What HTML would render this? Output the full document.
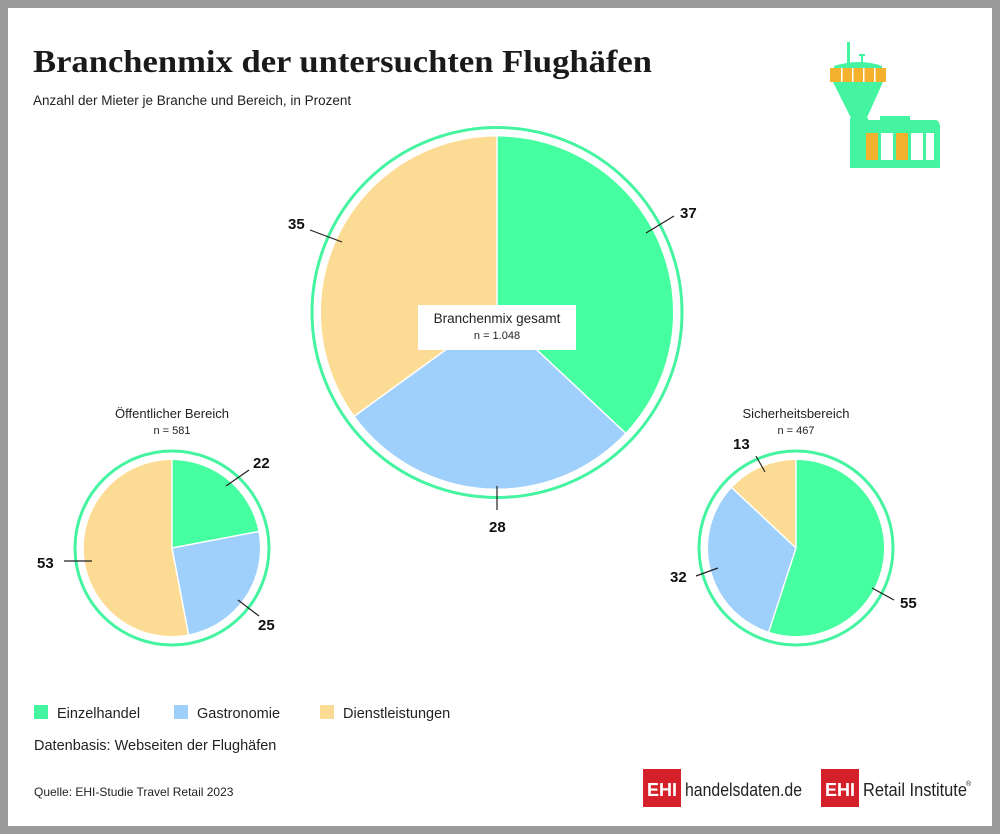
<!DOCTYPE html>
<html><head><meta charset="utf-8"><style>
body{margin:0;width:1000px;height:834px;overflow:hidden;background:#fff}
svg{display:block}
text{font-family:"Liberation Sans",sans-serif}
text.serif{font-family:"Liberation Serif",serif}
</style></head><body>
<svg width="1000" height="834" viewBox="0 0 1000 834">
<rect x="0" y="0" width="1000" height="834" fill="#9a9a9a"/>
<rect x="8" y="8" width="984" height="818" fill="#fff"/>
<text class="serif" x="33" y="72" font-weight="bold" font-size="32" fill="#1a1a1a" textLength="619" lengthAdjust="spacingAndGlyphs">Branchenmix der untersuchten Flughäfen</text>
<text x="33" y="105" font-size="13.5" fill="#222">Anzahl der Mieter je Branche und Bereich, in Prozent</text>
<!-- icon -->
<g>
<rect x="847" y="42" width="3" height="28" fill="#45f4a0"/>
<rect x="859" y="54" width="6" height="2" fill="#45f4a0"/><rect x="861" y="55" width="2" height="10" fill="#45f4a0"/>
<path d="M834 66 Q860 58 882 66 L882 78 L834 78Z" fill="#45f4a0"/>
<rect x="830" y="68" width="56" height="14" fill="#f4b12e"/>
<g fill="#fff"><rect x="841" y="68" width="1.5" height="14"/><rect x="852" y="68" width="1.5" height="14"/><rect x="863" y="68" width="1.5" height="14"/><rect x="874" y="68" width="1.5" height="14"/></g>
<path d="M833 82 L883 82 L866 120 L852 120 Z" fill="#45f4a0"/>
<rect x="850" y="118" width="18" height="50" fill="#45f4a0"/>
<path d="M868 120 L935 120 Q940 120 940 128 L940 168 L868 168 Z" fill="#45f4a0"/>
<rect x="880" y="116" width="30" height="6" fill="#45f4a0"/>
<rect x="866" y="133" width="12" height="27" fill="#f4b12e"/>
<rect x="881" y="133" width="12" height="27" fill="#fff"/>
<rect x="896" y="133" width="12" height="27" fill="#f4b12e"/>
<rect x="911" y="133" width="12" height="27" fill="#fff"/>
<rect x="926" y="133" width="8" height="27" fill="#fff"/>
</g>
<!-- main pie -->
<circle cx="497" cy="312.5" r="185" fill="none" stroke="#45f4a0" stroke-width="3"/>
<path d="M497 312.5 L497 136.5 A176 176 0 0 1 625.4 432.9Z" fill="#45ffa0"/>
<path d="M497 312.5 L625.4 432.9 A176 176 0 0 1 354.6 416Z" fill="#9fd0fb"/>
<path d="M497 312.5 L354.6 416 A176 176 0 0 1 497 136.5Z" fill="#fcdc94"/>
<g stroke="#fff" stroke-width="1.5"><line x1="497" y1="312.5" x2="497" y2="136.5"/><line x1="497" y1="312.5" x2="625.4" y2="432.9"/><line x1="497" y1="312.5" x2="354.6" y2="416"/></g>
<rect x="418" y="305" width="158" height="45" fill="#fff"/>
<text x="497" y="323" font-size="13.5" text-anchor="middle" fill="#222">Branchenmix gesamt</text>
<text x="497" y="339" font-size="11" text-anchor="middle" fill="#222">n = 1.048</text>
<!-- left pie -->
<circle cx="172" cy="548" r="97" fill="none" stroke="#45f4a0" stroke-width="3"/>
<path d="M172 548 L172 460 A88 88 0 0 1 258.4 531.5Z" fill="#45ffa0"/>
<path d="M172 548 L258.4 531.5 A88 88 0 0 1 188.5 634.4Z" fill="#9fd0fb"/>
<path d="M172 548 L188.5 634.4 A88 88 0 1 1 172 460Z" fill="#fcdc94"/>
<g stroke="#fff" stroke-width="1.5"><line x1="172" y1="548" x2="172" y2="460"/><line x1="172" y1="548" x2="258.4" y2="531.5"/><line x1="172" y1="548" x2="188.5" y2="634.4"/></g>
<text x="172" y="418" font-size="13" text-anchor="middle" fill="#222">Öffentlicher Bereich</text>
<text x="172" y="434" font-size="11" text-anchor="middle" fill="#222">n = 581</text>
<!-- right pie -->
<circle cx="796" cy="548" r="97" fill="none" stroke="#45f4a0" stroke-width="3"/>
<path d="M796 548 L796 460 A88 88 0 1 1 768.8 631.7Z" fill="#45ffa0"/>
<path d="M796 548 L768.8 631.7 A88 88 0 0 1 731.9 487.8Z" fill="#9fd0fb"/>
<path d="M796 548 L731.9 487.8 A88 88 0 0 1 796 460Z" fill="#fcdc94"/>
<g stroke="#fff" stroke-width="1.5"><line x1="796" y1="548" x2="796" y2="460"/><line x1="796" y1="548" x2="768.8" y2="631.7"/><line x1="796" y1="548" x2="731.9" y2="487.8"/></g>
<text x="796" y="418" font-size="13" text-anchor="middle" fill="#222">Sicherheitsbereich</text>
<text x="796" y="434" font-size="11" text-anchor="middle" fill="#222">n = 467</text>
<!-- leaders -->
<g stroke="#222" stroke-width="1.2">
<line x1="646" y1="233" x2="674" y2="216"/><line x1="310" y1="230" x2="342" y2="242"/><line x1="497" y1="486" x2="497" y2="510"/>
<line x1="226" y1="486" x2="249" y2="470"/><line x1="238" y1="600" x2="259" y2="616"/><line x1="64" y1="561" x2="92" y2="561"/>
<line x1="765" y1="472" x2="756" y2="456"/><line x1="718" y1="568" x2="696" y2="576"/><line x1="872" y1="588" x2="894" y2="600"/>
</g>
<g font-size="15" font-weight="bold" fill="#111">
<text x="680" y="218">37</text><text x="288" y="229">35</text><text x="489" y="532">28</text>
<text x="253" y="468">22</text><text x="258" y="630">25</text><text x="37" y="568">53</text>
<text x="733" y="449">13</text><text x="670" y="582">32</text><text x="900" y="608">55</text>
</g>
<!-- legend -->
<rect x="34" y="705" width="14" height="14" fill="#45f4a0"/>
<text x="57" y="718" font-size="14.5" fill="#222">Einzelhandel</text>
<rect x="174" y="705" width="14" height="14" fill="#9fd0fb"/>
<text x="197" y="718" font-size="14.5" fill="#222">Gastronomie</text>
<rect x="320" y="705" width="14" height="14" fill="#fcdc94"/>
<text x="343" y="718" font-size="14.5" fill="#222">Dienstleistungen</text>
<text x="34" y="750" font-size="14.5" fill="#222">Datenbasis: Webseiten der Flughäfen</text>
<text x="34" y="796" font-size="12" fill="#222">Quelle: EHI-Studie Travel Retail 2023</text>
<!-- logos -->
<rect x="643" y="769" width="38" height="38" fill="#d3202a"/>
<text x="662" y="796" font-size="18" font-weight="bold" fill="#fff" text-anchor="middle">EHI</text>
<text x="685" y="796" font-size="18" fill="#222" textLength="117" lengthAdjust="spacingAndGlyphs">handelsdaten.de</text>
<rect x="821" y="769" width="38" height="38" fill="#d3202a"/>
<text x="840" y="796" font-size="18" font-weight="bold" fill="#fff" text-anchor="middle">EHI</text>
<text x="863" y="796" font-size="18" fill="#222" textLength="104" lengthAdjust="spacingAndGlyphs">Retail Institute</text>
<text x="966" y="786" font-size="7" fill="#222">®</text>
</svg>
</body></html>
